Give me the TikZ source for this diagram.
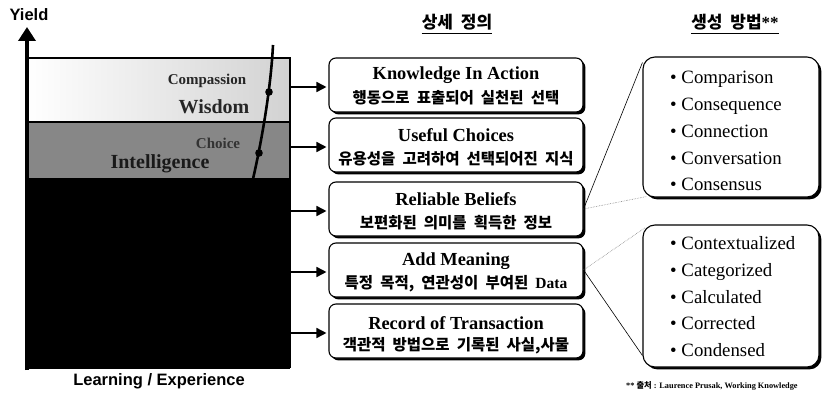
\documentclass[tikz,border=0pt]{standalone}
\usepackage{fontspec}
\setmainfont{Liberation Serif}
\setsansfont{Liberation Sans}
\newfontfamily\kr{Noto Sans CJK KR}[WordSpace=2.0]
\usetikzlibrary{arrows.meta,shadows,calc}

\tikzset{
  defbox/.style={draw, line width=1.1pt, rounded corners=7pt, fill=white,
    minimum width=254pt, minimum height=54pt, inner sep=0,
    drop shadow={shadow xshift=2.4pt, shadow yshift=-2.4pt, opacity=1, fill=black}},
  methodbox/.style={draw, line width=1.1pt, rounded corners=12pt, fill=white,
    minimum width=176pt, inner sep=0,
    drop shadow={shadow xshift=2.4pt, shadow yshift=-2.4pt, opacity=1, fill=black}},
  titletext/.style={font=\fontsize{18.4}{20}\selectfont\bfseries, inner sep=0},
  krtext/.style={font=\kr\bfseries\fontsize{15.5}{17}\selectfont, inner sep=0},
  item/.style={anchor=base west, font=\fontsize{18.8}{20}\selectfont, inner sep=0},
  header/.style={font=\kr\bfseries\fontsize{17}{19}\selectfont, inner sep=0},
  feed/.style={line width=1.6pt, -{Triangle[length=10pt,width=10pt]}, shorten >=2pt},
  axislabel/.style={font=\sffamily\bfseries\fontsize{16.5}{18}\selectfont, inner sep=0},
  bandlabel/.style={font=\bfseries, inner sep=0},
}

\begin{document}
\begin{tikzpicture}[x=1pt, y=-1pt]
\useasboundingbox (0,0) rectangle (822,396);

% ---- yield chart ----
\shade[left color=white, right color=gray!35] (27,58) rectangle (290,122);
\fill[black!47] (27,122) rectangle (290,178);
\fill[black] (27,178) rectangle (290,368);
\draw[line width=1.6pt] (27,58) -- (290,58) -- (290,368);
\draw[line width=1.2pt] (27,122) -- (290,122);
\draw[line width=2pt] (25,368) -- (290,368);
\coordinate (axisfoot) at (27,370);
\coordinate (axistop) at (27,27);
\draw[line width=4pt, -{Triangle[length=14pt,width=17pt]}] (axisfoot) -- (axistop);
\coordinate (chartR) at (290,0);

\node[axislabel] (yieldlbl) at (29,15) {Yield};
\node[axislabel] (learnlbl) at (159,381) {Learning / Experience};

\node[bandlabel, font=\bfseries\fontsize{15}{17}\selectfont, text=black!85] (compassion) at (207,81) {Compassion};
\node[bandlabel, font=\bfseries\fontsize{20}{22}\selectfont, text=black!85] (wisdom) at (214,107) {Wisdom};
\node[bandlabel, font=\bfseries\fontsize{15}{17}\selectfont, text=black!80] (choice) at (218,143) {Choice};
\node[bandlabel, font=\bfseries\fontsize{20}{22}\selectfont, text=black!90] (intel) at (160,164) {Intelligence};

% growth curve with its two marks
\coordinate (gtop) at (273,45);
\coordinate (gbot) at (253,179);
\draw[line width=2.6pt] (gtop) .. controls (271,85) and (263,135) .. (gbot);
\fill (269,92) circle (3.8pt);
\fill (259,153) circle (3.8pt);

% ---- column headers ----
\node[header] (hdef) at (457,22) {상세 정의};
\draw[line width=1pt] ($(hdef.base west)+(0,5)$) -- ($(hdef.base east)+(0,5)$);
\node[header] (hgen) at (735,22) {생성 방법{\rmfamily**}};
\draw[line width=1pt] ($(hgen.base west)+(0,5)$) -- ($(hgen.base east)+(0,5)$);

% ---- definition boxes ----
\node[defbox] (b1) at (456,85) {};
\node[defbox] (b2) at (456,145) {};
\node[defbox] (b3) at (456,209) {};
\node[defbox] (b4) at (456,270) {};
\node[defbox] (b5) at (456,331) {};

\node[titletext] (t1) at ($(b1.center)+(0,-10)$) {Knowledge In Action};
\node[krtext]    (k1) at ($(b1.center)+(0,13)$) {행동으로 표출되어 실천된 선택};
\node[titletext] (t2) at ($(b2.center)+(0,-10)$) {Useful Choices};
\node[krtext]    (k2) at ($(b2.center)+(0,14)$) {유용성을 고려하여 선택되어진 지식};
\node[titletext] (t3) at ($(b3.center)+(0,-10)$) {Reliable Beliefs};
\node[krtext]    (k3) at ($(b3.center)+(0,14)$) {보편화된 의미를 획득한 정보};
\node[titletext] (t4) at ($(b4.center)+(0,-9)$) {Add Meaning};
\node[krtext]    (k4) at ($(b4.center)+(0,14)$) {특정 목적, 연관성이 부여된 {\rmfamily\fontsize{15.5}{17}\selectfont Data}};
\node[titletext] (t5) at ($(b5.center)+(0,-8)$) {Record of Transaction};
\node[krtext]    (k5) at ($(b5.center)+(0,15)$) {객관적 방법으로 기록된 사실,사물};

\foreach \b in {b1,b2,b3,b4,b5}
  \draw[feed] ($(chartR |- \b.west)+(0,2)$) -- ($(\b.west)+(0,2)$);

% ---- generation method boxes ----
\node[methodbox, minimum height=140pt] (mA) at (731,127) {};
\node[methodbox, minimum height=142pt] (mB) at (731,296) {};

\foreach \t [count=\i] in {Comparison, Consequence, Connection, Conversation, Consensus}
  \node[item] (ma\i) at (670, 57.3+26.7*\i) {\textbullet\ \t};
\foreach \t [count=\i] in {Contextualized, Categorized, Calculated, Corrected, Condensed}
  \node[item] (mb\i) at (670, 222.3+26.9*\i) {\textbullet\ \t};

% fan-out lines from the boxes to their methods
\draw[line width=0.6pt] (b3.east) -- ($(mA.north west)+(0,6)$);
\draw[line width=0.6pt, gray, densely dotted] (b3.east) -- ($(mA.south west)+(4,-1)$);
\draw[line width=0.6pt, gray, densely dotted] (b4.east) -- ($(mB.north west)+(3,3)$);
\draw[line width=0.6pt] (b4.east) -- ($(mB.south west)+(0,-12)$);

% ---- source note ----
\node[anchor=base west, inner sep=0, font=\bfseries\fontsize{8.3}{10}\selectfont] (src) at (626,388) {** {\kr 출처} : Laurence Prusak, Working Knowledge};
\end{tikzpicture}
\end{document}
